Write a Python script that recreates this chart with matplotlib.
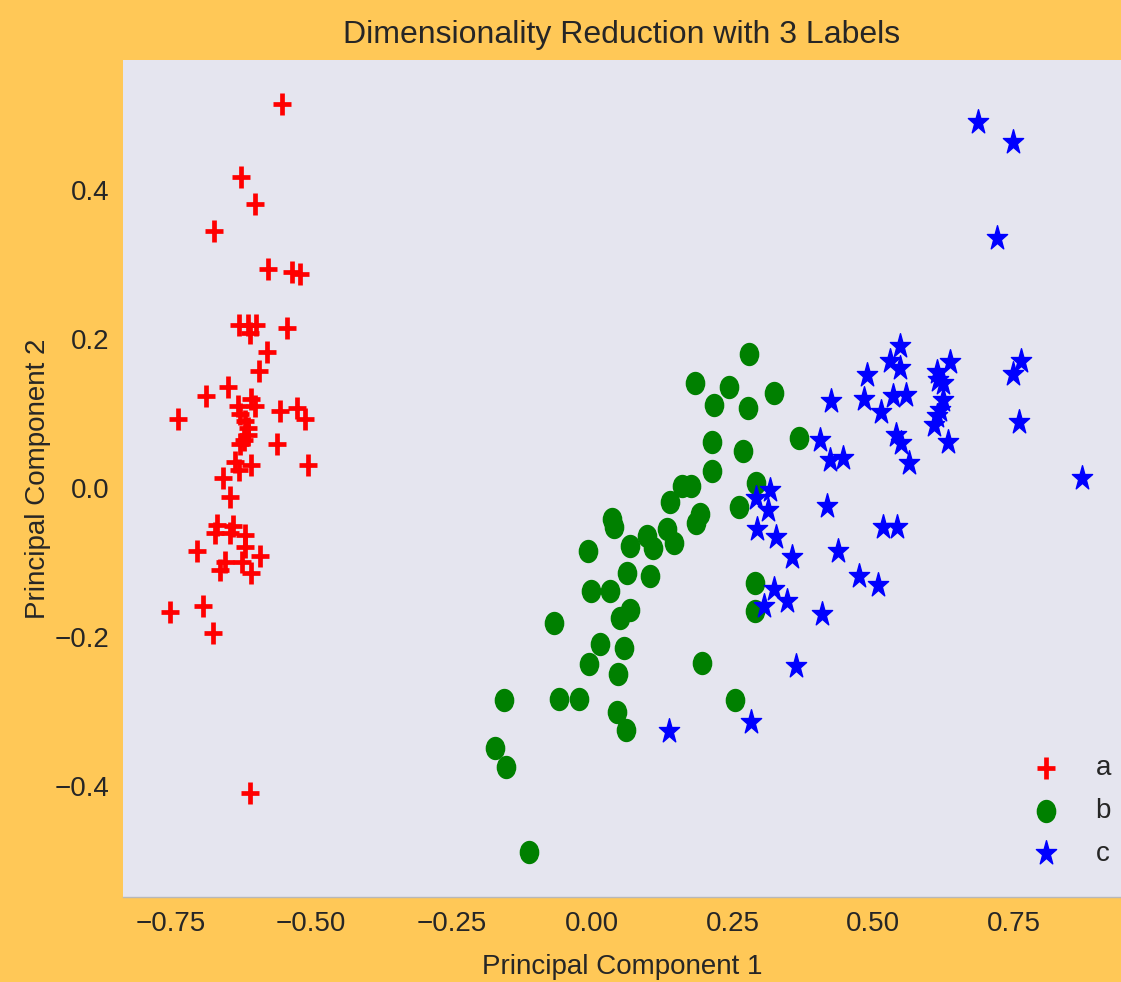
import matplotlib
matplotlib.use('Agg')
import matplotlib.pyplot as plt
from matplotlib.markers import MarkerStyle
from matplotlib.transforms import Affine2D


# Principal components, one pair of lists per label
a_x = [-0.552, -0.625, -0.600, -0.673, -0.576, -0.533, -0.520, -0.628, -0.612, -0.598,
       -0.609, -0.543, -0.578, -0.592, -0.647, -0.687, -0.607, -0.630, -0.600, -0.556,
       -0.525, -0.511, -0.736, -0.626, -0.617, -0.612, -0.612, -0.620, -0.626, -0.561,
       -0.635, -0.628, -0.607, -0.505, -0.656, -0.644, -0.668, -0.671, -0.638, -0.644,
       -0.617, -0.617, -0.703, -0.591, -0.653, -0.662, -0.622, -0.607, -0.751, -0.692,
       -0.675, -0.609]
a_y = [0.515, 0.418, 0.381, 0.345, 0.294, 0.290, 0.287, 0.219, 0.219, 0.219,
       0.208, 0.215, 0.182, 0.157, 0.135, 0.124, 0.120, 0.110, 0.110, 0.104,
       0.107, 0.093, 0.093, 0.099, 0.090, 0.081, 0.071, 0.064, 0.059, 0.059,
       0.035, 0.024, 0.031, 0.031, 0.013, -0.012, -0.050, -0.061, -0.051, -0.061,
       -0.063, -0.079, -0.084, -0.091, -0.099, -0.110, -0.100, -0.114, -0.167, -0.159,
       -0.195, -0.409]

b_x = [0.280, 0.183, 0.244, 0.323, 0.217, 0.277, 0.368, 0.214, 0.268, 0.214,
       0.292, 0.160, 0.176, 0.138, 0.262, 0.192, 0.185, 0.035, 0.039, 0.134,
       0.145, 0.098, 0.109, 0.068, -0.008, 0.063, 0.103, -0.001, 0.032, 0.290,
       0.290, 0.068, 0.049, -0.067, 0.015, 0.056, -0.006, 0.046, 0.195, -0.157,
       -0.058, -0.023, 0.044, 0.060, 0.254, -0.172, -0.153, -0.112]
b_y = [0.180, 0.141, 0.135, 0.128, 0.111, 0.108, 0.067, 0.062, 0.050, 0.023,
       0.007, 0.002, 0.002, -0.019, -0.026, -0.035, -0.047, -0.041, -0.053, -0.055,
       -0.074, -0.065, -0.081, -0.078, -0.085, -0.114, -0.118, -0.138, -0.138, -0.128,
       -0.165, -0.164, -0.175, -0.181, -0.209, -0.215, -0.236, -0.250, -0.235, -0.285,
       -0.283, -0.283, -0.301, -0.325, -0.285, -0.349, -0.374, -0.488]

c_x = [0.687, 0.748, 0.720, 0.548, 0.530, 0.548, 0.637, 0.613, 0.616, 0.624,
       0.763, 0.748, 0.489, 0.425, 0.484, 0.535, 0.558, 0.514, 0.624, 0.619,
       0.613, 0.609, 0.759, 0.541, 0.550, 0.633, 0.406, 0.423, 0.447, 0.564,
       0.871, 0.317, 0.292, 0.313, 0.418, 0.517, 0.543, 0.293, 0.327, 0.355,
       0.437, 0.475, 0.509, 0.323, 0.346, 0.306, 0.409, 0.363, 0.283, 0.136]
c_y = [0.491, 0.464, 0.336, 0.190, 0.171, 0.161, 0.169, 0.156, 0.145, 0.141,
       0.171, 0.153, 0.152, 0.117, 0.119, 0.123, 0.125, 0.102, 0.118, 0.105,
       0.096, 0.084, 0.089, 0.071, 0.061, 0.062, 0.064, 0.038, 0.040, 0.033,
       0.013, -0.003, -0.014, -0.030, -0.024, -0.052, -0.052, -0.055, -0.066, -0.093,
       -0.084, -0.118, -0.130, -0.136, -0.152, -0.159, -0.169, -0.239, -0.314, -0.326]

labels = ['a', 'b', 'c']

TEXT = '#262626'
SQUEEZE = Affine2D().scale(0.83, 1.0)   # the reference is a bit narrower than tall

plt.rcParams['font.family'] = ['Liberation Sans', 'DejaVu Sans']

fig = plt.figure(figsize=(11.21, 9.82), dpi=100, facecolor='#ffc857')
ax = fig.add_axes([0.1097, 0.0866, 0.8903, 0.8523])
ax.set_facecolor('#e5e5ef')

ax.scatter(a_x, a_y, color='red', marker=MarkerStyle('+', transform=SQUEEZE),
           s=240, linewidths=3.4, label=labels[0])
ax.scatter(b_x, b_y, color='green', marker=MarkerStyle('o', transform=SQUEEZE),
           s=250, label=labels[1])
ax.scatter(c_x, c_y, color='blue', marker=MarkerStyle('*', transform=SQUEEZE),
           s=340, label=labels[2])

ax.set_xlim(-0.8345, 0.941)
ax.set_ylim(-0.549, 0.5745)
ax.set_xticks([-0.75, -0.5, -0.25, 0.0, 0.25, 0.5, 0.75])
ax.set_yticks([-0.4, -0.2, 0.0, 0.2, 0.4])
ax.tick_params(length=0, pad=10, labelsize=20, labelcolor=TEXT)
for side in ['top', 'right', 'left']:
    ax.spines[side].set_visible(False)
ax.spines['bottom'].set_color('#b8b8b8')
ax.spines['bottom'].set_linewidth(1.0)

ax.set_title('Dimensionality Reduction with 3 Labels', fontsize=23, color=TEXT, pad=12)
ax.set_xlabel('Principal Component 1', fontsize=20, color=TEXT, labelpad=12)
ax.set_ylabel('Principal Component 2', fontsize=20, color=TEXT)
ax.yaxis.set_label_coords(-0.072, 0.5)

ax.legend(loc='lower right', bbox_to_anchor=(1.012, 0.0096), frameon=False,
          fontsize=20, labelspacing=0.6, handletextpad=0.78, borderaxespad=0.4,
          labelcolor=TEXT)

fig.savefig('out.png', dpi=100, facecolor=fig.get_facecolor())
